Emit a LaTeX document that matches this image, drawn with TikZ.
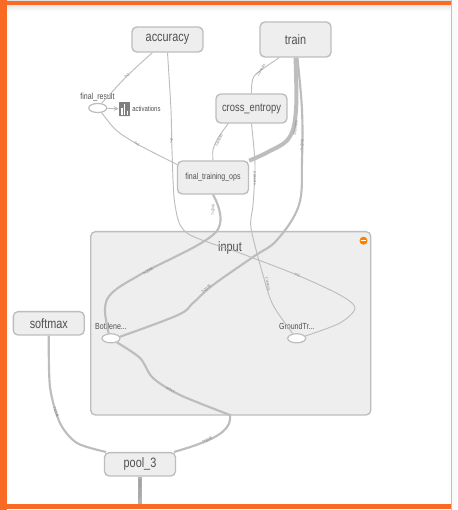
\documentclass[tikz,border=0pt]{standalone}
\usepackage{fontspec}
\setmainfont[FakeStretch=0.8]{Liberation Sans}
\usetikzlibrary{shapes.geometric}
\definecolor{frameorange}{HTML}{F96A24}
\definecolor{nodegray}{HTML}{BDBDBD}
\definecolor{nodefill}{HTML}{EEEEEE}
\definecolor{edgegray}{HTML}{BDBDBD}
\definecolor{textgray}{HTML}{505050}
\newcommand{\opfont}{\fontsize{10.2}{11}\selectfont}

\begin{document}
\begin{tikzpicture}[x=0.75pt, y=-0.75pt, >=stealth,
    opbox/.style={draw=nodegray, fill=nodefill, line width=1pt, rounded corners=3.5pt, inner sep=0pt, text=textgray, font=\opfont},
    series/.style={ellipse, draw=nodegray, fill=white, line width=0.9pt, minimum width=13.5pt, minimum height=6.8pt, inner sep=0pt},
    smalltext/.style={text=textgray, font=\fontsize{6.6}{7}\selectfont, inner sep=0pt},
    thinedge/.style={draw=edgegray, line width=0.7pt},
    midedge/.style={draw=edgegray, line width=1.6pt},
    fatedge/.style={draw=edgegray, line width=3pt},
    edgelabel/.style={text=gray, font=\fontsize{3}{3}\selectfont, inner sep=0pt}]
    \useasboundingbox (0,0) rectangle (457,510);
    \fill[white] (0,0) rectangle (457,510);

    % Window frame
    \fill[black!2] (452,0) rectangle (457,510);
    \fill[black!12] (7,0) rectangle (452,1.5);
    \shade[top color=black!10, bottom color=white] (7,5) rectangle (451,11);
    \fill[frameorange] (0,1) rectangle (451,5.5);
    \fill[frameorange] (0,504) rectangle (451,509);
    \fill[frameorange] (0,0) rectangle (6.5,510);
    \draw[black!25, line width=0.7pt] (451.5,0) -- (451.5,510);

    % Expanded group
    \node[opbox, minimum width=210pt, minimum height=137.5pt] (input) at (230.7,323.3) {};
    \node[text=textgray, font=\opfont, inner sep=0pt] (inputtitle) at (230,247.5) {input};
    \node[circle, fill=orange, inner sep=0pt, minimum size=6pt] (collapse) at (363.5,240.7) {};
    \draw[white, line width=0.8pt] (collapse.west) ++(1pt,0) -- ([xshift=-1pt]collapse.east);

    % Main nodes
    \node[opbox, minimum width=53.2pt, minimum height=18.7pt] (accuracy) at (167.5,39.5) {accuracy};
    \node[opbox, minimum width=53.2pt, minimum height=26.2pt] (train) at (295.5,39.5) {train};
    \node[opbox, minimum width=53.2pt, minimum height=21.7pt, font=\fontsize{8.8}{9}\selectfont] (crossentropy) at (251.5,108.5) {cross\_entropy};
    \node[opbox, minimum width=53.2pt, minimum height=24.7pt, font=\fontsize{6.6}{7}\selectfont] (finalops) at (213,177.5) {final\_training\_ops};
    \node[opbox, minimum width=53.2pt, minimum height=17.5pt] (softmax) at (48.8,323.3) {softmax};
    \node[opbox, minimum width=53.2pt, minimum height=17.5pt] (pool) at (140,464.3) {pool\_3};
    \coordinate (poolout) at (140,504);

    % Small series nodes
    \node[series] (finalresult) at (97.7,108) {};
    \node[smalltext] (finalresultlabel) at (97.5,97) {final\_result};
    \node[series] (bottleneck) at (111,338.3) {};
    \node[smalltext] (bottlenecklabel) at (111,326.7) {Bottlene...};
    \node[series] (groundtruth) at (296.7,338.3) {};
    \node[smalltext] (groundtruthlabel) at (296.7,326.7) {GroundTr...};

    % Summary icon
    \node[fill=gray, rounded corners=0.5pt, minimum width=8.2pt, minimum height=10.5pt, inner sep=0pt] (activationsicon) at (124.5,109) {};
    \fill[white] (121.3,108) rectangle (122.5,114.5);
    \fill[white] (124,104) rectangle (125.2,114.5);
    \fill[white] (126.7,110.5) rectangle (127.9,114.5);
    \node[smalltext, anchor=west, font=\fontsize{5.6}{6}\selectfont] (activations) at (132,108.5) {activations};

    % Thin edges
    \draw[thinedge] plot[smooth] coordinates {(accuracy.221) (127,76) (finalresult.50)};
    \draw[thinedge] plot[smooth] coordinates {(finalresult.310) (116,130) (137,144) (finalops.160)};
    \draw[thinedge] plot[smooth] coordinates {(accuracy.270) (171,110) (172,150) (175,205) (187,233) (240,253) (297,275) (340,295) (355,308) (340,323) (groundtruth.15)};
    \draw[thinedge] plot[smooth] coordinates {(train.228) (256,74) (252,83) (crossentropy.90)};
    \draw[thinedge] plot[smooth] coordinates {(crossentropy.213) (218,138) (213,150) (finalops.90)};
    \draw[thinedge] plot[smooth] coordinates {(crossentropy.270) (255,165) (253,205) (251,228) (263,275) (273,305) (groundtruth.130)};
    \draw[->, draw=edgegray, line width=0.7pt] (finalresult) -- (activationsicon);

    % Thick edges
    \draw[fatedge] plot[smooth, tension=0.6] coordinates {(train.270) (296,110) (289,138) (268,152) (finalops.25)};
    \draw[midedge] plot[smooth, tension=0.6] coordinates {(train.-84) (302,110) (302,160) (299,205) (277,240) (253,257) (213,285) (193,303) (178,315) (bottleneck.10)};
    \draw[midedge] plot[smooth, tension=0.6] coordinates {(finalops.270) (216,232) (143,273) (113,292) (105,308) (bottleneck.115)};
    \draw[midedge] plot[smooth, tension=0.5] coordinates {(bottleneck.-35) (140,358) (153,378) (180,395) (230,415)} .. controls (232,432) and (212,441) .. (pool.20);
    \draw[midedge] plot[smooth] coordinates {(softmax.270) (50,387) (60,423) (77,443) (pool.160)};
    \draw[draw=black!30, line width=3.2pt] (pool.south) -- (poolout);

    % Edge labels
    \node[edgelabel, rotate=48] (l1) at (127,76) {?×2};
    \node[edgelabel, rotate=-35] (l2) at (137,144) {?×2};
    \node[edgelabel, rotate=88] (l3) at (171.5,141) {?×2};
    \node[edgelabel, rotate=60] (l4) at (261,70) {2 tensors};
    \node[edgelabel, rotate=65] (l5) at (219,140) {2 tensors};
    \node[edgelabel, rotate=-88] (l6) at (255,178) {2 tensors};
    \node[edgelabel, rotate=83] (l7) at (295.5,128) {39 tensors};
    \node[edgelabel, rotate=88] (l8) at (302,145) {?×2048};
    \node[edgelabel, rotate=88] (l9) at (213,210) {?×2048};
    \node[edgelabel, rotate=33] (l10) at (148,271) {?×2048};
    \node[edgelabel, rotate=38] (l11) at (206,289) {?×2048};
    \node[edgelabel, rotate=-28] (l12) at (170,390) {?×?×?};
    \node[edgelabel, rotate=-25] (l13) at (297,275) {?×2};
    \node[edgelabel, rotate=-78] (l14) at (268,284) {2 tensors};
    \node[edgelabel, rotate=-70] (l15) at (56,412) {?×2048};
    \node[edgelabel, rotate=28] (l16) at (207,440) {?×2048};
    \node[edgelabel, rotate=90] (l17) at (140,489) {?×?×?×2048};
\end{tikzpicture}
\end{document}
